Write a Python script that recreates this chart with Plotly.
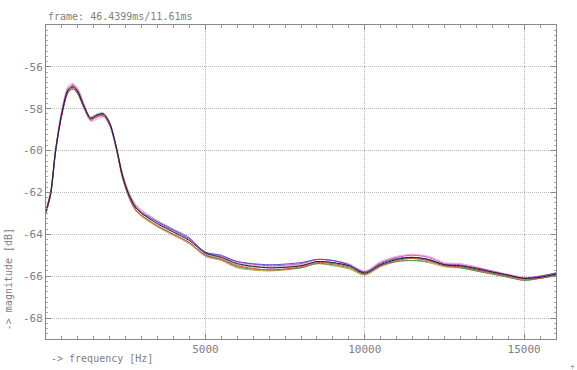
import plotly.graph_objects as go

freq = [0, 150, 300, 500, 700, 850, 1000, 1200, 1400, 1600, 1800, 2000, 2200, 2400, 2600, 2800, 3000,
        3500, 4000, 4500, 5000, 5500, 6000, 7000, 8000, 8500, 9000, 9500, 10000, 10500, 11000, 11500,
        12000, 12500, 13000, 13500, 14000, 14500, 15000, 15500, 16000]

mag_black = [-62.9, -62.0, -60.0, -58.2, -57.1, -56.95, -57.2, -57.9, -58.45, -58.3, -58.25, -58.7, -59.8, -61.2, -62.1, -62.7, -63.0,
             -63.5, -63.9, -64.3, -64.9, -65.1, -65.4, -65.6, -65.5, -65.3, -65.35, -65.5, -65.85, -65.45, -65.2, -65.1,
             -65.2, -65.45, -65.5, -65.65, -65.8, -65.95, -66.1, -66.05, -65.9]
mag_red = [-63.0, -62.1, -60.1, -58.3, -57.2, -57.05, -57.3, -58.0, -58.55, -58.4, -58.35, -58.8, -59.9, -61.3, -62.2, -62.8, -63.1,
           -63.6, -64.0, -64.4, -65.0, -65.2, -65.5, -65.7, -65.55, -65.35, -65.4, -65.55, -65.9, -65.5, -65.25, -65.15,
           -65.25, -65.5, -65.55, -65.7, -65.85, -66.0, -66.15, -66.1, -65.95]
mag_pink = [-62.8, -61.9, -59.9, -58.0, -56.9, -56.8, -57.05, -57.8, -58.6, -58.5, -58.4, -58.8, -59.8, -61.1, -62.0, -62.6, -62.9,
            -63.4, -63.8, -64.2, -64.85, -65.05, -65.35, -65.55, -65.45, -65.2, -65.25, -65.4, -65.75, -65.3, -65.05, -64.95,
            -65.05, -65.35, -65.4, -65.55, -65.75, -65.9, -66.05, -66.0, -65.85]
mag_magenta = [-62.9, -62.0, -60.0, -58.1, -57.0, -56.85, -57.1, -57.85, -58.5, -58.35, -58.3, -58.75, -59.85, -61.2, -62.1, -62.7, -63.0,
               -63.45, -63.85, -64.25, -64.85, -65.05, -65.3, -65.5, -65.4, -65.2, -65.25, -65.45, -65.8, -65.35, -65.1, -65.0,
               -65.1, -65.4, -65.45, -65.6, -65.75, -65.95, -66.1, -66.0, -65.85]
mag_blue = [-62.9, -62.0, -60.0, -58.2, -57.1, -56.95, -57.2, -57.95, -58.45, -58.3, -58.25, -58.7, -59.8, -61.2, -62.1, -62.65, -62.95,
            -63.4, -63.8, -64.2, -64.85, -65.0, -65.3, -65.45, -65.35, -65.2, -65.25, -65.45, -65.8, -65.4, -65.15, -65.1,
            -65.2, -65.45, -65.5, -65.6, -65.8, -65.95, -66.1, -66.0, -65.85]
mag_green = [-62.95, -62.05, -60.05, -58.25, -57.2, -57.05, -57.3, -58.0, -58.5, -58.35, -58.3, -58.75, -59.85, -61.3, -62.2, -62.8, -63.1,
             -63.6, -64.0, -64.4, -65.0, -65.2, -65.55, -65.7, -65.6, -65.4, -65.45, -65.6, -65.9, -65.5, -65.3, -65.25,
             -65.3, -65.5, -65.6, -65.75, -65.9, -66.05, -66.2, -66.1, -65.95]
mag_olive = [-62.95, -62.05, -60.05, -58.2, -57.15, -57.0, -57.25, -57.95, -58.5, -58.35, -58.3, -58.75, -59.9, -61.3, -62.25, -62.85, -63.15,
             -63.65, -64.05, -64.45, -65.05, -65.25, -65.6, -65.75, -65.6, -65.4, -65.5, -65.65, -65.95, -65.55, -65.3, -65.25,
             -65.35, -65.55, -65.6, -65.75, -65.9, -66.05, -66.2, -66.1, -66.0]
mag_gray = [-62.85, -61.95, -59.95, -58.15, -57.0, -56.9, -57.15, -57.85, -58.4, -58.25, -58.2, -58.65, -59.75, -61.1, -62.0, -62.55, -62.85,
            -63.35, -63.75, -64.15, -64.95, -65.15, -65.45, -65.6, -65.5, -65.3, -65.35, -65.5, -65.85, -65.45, -65.2, -65.15,
            -65.25, -65.45, -65.55, -65.7, -65.85, -66.0, -66.1, -66.05, -65.9]

x_tickvals = [5000, 10000, 15000]
x_ticktext = ["5000", "10000", "15000"]
y_tickvals = [-68, -66, -64, -62, -60, -58, -56]
y_ticktext = ["-68", "-66", "-64", "-62", "-60", "-58", "-56"]

title_text = "frame: 46.4399ms/11.61ms"
x_label = "-> frequency [Hz]"
y_label = "-> magnitude [dB]"

series = [
    (mag_gray, "#a0a0a0"),
    (mag_olive, "#b8a848"),
    (mag_green, "#4a9a4a"),
    (mag_pink, "#f0a8c8"),
    (mag_red, "#e04848"),
    (mag_magenta, "#d050d0"),
    (mag_blue, "#5050d8"),
    (mag_black, "#202020"),
]

fig = go.Figure()
for vals, col in series:
    fig.add_trace(go.Scatter(x=freq, y=vals, mode="lines",
                             line=dict(color=col, width=1, shape="spline", smoothing=0.8),
                             showlegend=False, hoverinfo="skip"))

font_mono = "DejaVu Sans Mono, Liberation Mono, monospace"
axis_common = dict(showline=True, linecolor="#888888", linewidth=1, mirror="ticks",
                   ticks="inside", tickcolor="#888888", ticklen=5,
                   showgrid=True, gridcolor="#b8b8b8", griddash="1px,1px", gridwidth=1,
                   zeroline=False, tickfont=dict(family=font_mono, size=11, color="#808080"))

fig.update_xaxes(range=[0, 16000], tickmode="array", tickvals=x_tickvals, ticktext=x_ticktext,
                 minor=dict(dtick=500, tick0=0, ticks="inside", ticklen=3, tickcolor="#999999", showgrid=False),
                 **axis_common)
fig.update_yaxes(range=[-69, -54], tickmode="array", tickvals=y_tickvals, ticktext=y_ticktext,
                 minor=dict(dtick=0.25, tick0=0, ticks="inside", ticklen=2, tickcolor="#aaaaaa", showgrid=False),
                 **axis_common)

fig.add_annotation(text=title_text, xref="paper", yref="paper", x=0, y=1.0, xanchor="left", yanchor="bottom",
                   yshift=1, showarrow=False, font=dict(family=font_mono, size=10, color="#808080"))
fig.add_annotation(text=x_label, xref="paper", yref="paper", x=0.005, y=0, xanchor="left", yanchor="top",
                   yshift=-12, showarrow=False, font=dict(family=font_mono, size=10, color="#808080"))
fig.add_annotation(text=y_label, xref="paper", yref="paper", x=0, y=0.02, xanchor="right", yanchor="bottom",
                   xshift=-30, textangle=-90, showarrow=False, font=dict(family=font_mono, size=10, color="#808080"))
fig.add_annotation(text="+", xref="paper", yref="paper", x=1, y=0, xanchor="left", yanchor="top",
                   xshift=12, yshift=-21, showarrow=False, font=dict(family=font_mono, size=8, color="#999999"))

fig.update_layout(width=577, height=370, margin=dict(l=46, r=21, t=25, b=31),
                  paper_bgcolor="white", plot_bgcolor="white")

fig.write_html("out.html", config={"displayModeBar": False},
               post_script="document.body.style.margin='0px';document.body.style.overflow='hidden';")
